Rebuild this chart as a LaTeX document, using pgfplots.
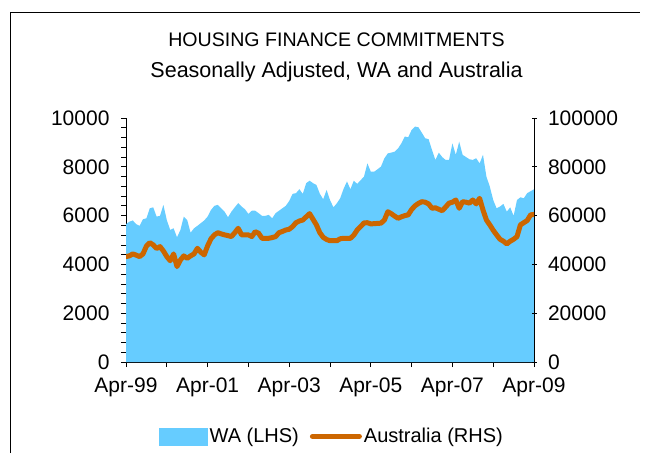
\documentclass[border=0pt]{standalone}
\usepackage{pgfplots}
\pgfplotsset{compat=1.18}
\usepackage{pgfplotstable}
\usepackage{fontspec}
\setmainfont{Liberation Sans}
\definecolor{wablue}{HTML}{66CCFF}
\definecolor{ausorange}{HTML}{CC6600}

\pgfplotstableread{
m v
0 5650
1 5750
2 5800
3 5650
4 5580
5 5850
6 5890
7 6300
8 6340
9 5960
10 5990
11 6440
12 5820
13 5410
14 5480
15 5110
16 5410
17 5960
18 5820
19 5300
20 5480
21 5580
22 5690
23 5800
24 5960
25 6230
26 6400
27 6440
28 6300
29 6160
30 5930
31 6160
32 6340
33 6510
34 6370
35 6260
36 6070
37 6200
38 6200
39 6100
40 5990
41 5990
42 6030
43 5890
44 6100
45 6200
46 6300
47 6400
48 6600
49 6890
50 6920
51 7080
52 6890
53 7330
54 7430
55 7330
56 7260
57 6900
58 6670
59 7050
60 6640
61 6340
62 6500
63 6710
64 7100
65 7400
66 7080
67 7430
68 7300
69 7450
70 7600
71 8140
72 7800
73 7800
74 7900
75 8010
76 8350
77 8550
78 8580
79 8620
80 8750
81 8960
82 9240
83 9210
84 9510
85 9650
86 9620
87 9400
88 9170
89 9130
90 8690
91 8280
92 8580
93 8400
94 8280
95 8280
96 8960
97 8490
98 9030
99 8490
100 8400
101 8310
102 8280
103 8350
104 8140
105 8490
106 7600
107 7190
108 6640
109 6300
110 6370
111 6480
112 6160
113 6340
114 5990
115 6640
116 6750
117 6710
118 6920
119 7000
120 7080
}\wadata

\pgfplotstableread{
m v
0 43200
1 43500
2 44300
3 43800
4 43200
5 44300
6 47500
7 48900
8 48000
9 46500
10 47300
11 45500
12 43200
13 41500
14 44300
15 39100
16 41800
17 43500
18 42500
19 43500
20 44300
21 46600
22 45000
23 43900
24 47600
25 50500
26 52100
27 53000
28 52500
29 52100
30 51800
31 51400
32 53000
33 54800
34 52100
35 52100
36 52100
37 51400
38 53400
39 52800
40 50700
41 50700
42 50700
43 51000
44 51400
45 53000
46 53500
47 54100
48 54400
49 55500
50 57100
51 57800
52 58200
53 59500
54 60800
55 58500
56 56200
57 53000
58 51100
59 50200
60 49700
61 49700
62 49700
63 50500
64 50700
65 50700
66 50700
67 52000
68 54100
69 55500
70 57000
71 57100
72 56600
73 56700
74 56800
75 56900
76 58200
77 61600
78 60800
79 59800
80 58900
81 59500
82 60000
83 60300
84 62500
85 64000
86 65000
87 65700
88 65500
89 64800
90 63000
91 63200
92 62600
93 62000
94 63500
95 65100
96 65500
97 66400
98 63000
99 65700
100 65500
101 65100
102 66400
103 64800
104 67100
105 62300
106 58200
107 56200
108 54000
109 52100
110 50300
111 49500
112 48400
113 49500
114 50300
115 51400
116 56200
117 57100
118 58000
119 60300
120 60500
}\ausdata

\begin{document}
\begin{tikzpicture}[x=1pt,y=1pt]
\path[use as bounding box] (0,0) rectangle (650,453);
% frame (top and left edges visible)
\draw[black, line width=0.9pt] (10,0) -- (10,441) -- (640,441);
% titles
\node[font=\fontsize{19.6}{22}\selectfont] at (336.5,413) {HOUSING FINANCE COMMITMENTS};
\node[font=\fontsize{21.5}{24}\selectfont] at (336.5,381) {Seasonally Adjusted, WA and Australia};

\pgfplotsset{
  every axis/.append style={
    scale only axis, width=408pt, height=244pt,
    at={(126pt,91pt)}, anchor=south west,
    xmin=0, xmax=120,
    /pgf/number format/assume math mode=true,
    /pgf/number format/fixed,
    /pgf/number format/precision=0,
    /pgf/number format/1000 sep={},
    scaled y ticks=false,
    tick label style={font=\fontsize{21}{24}\selectfont},
    major tick length=5pt, minor tick length=5pt,
    tick style={black, line width=0.7pt},
    axis line style={black, line width=0.9pt},
  }
}
\begin{axis}[
  axis x line*=bottom, axis y line*=left,
  ymin=0, ymax=10000,
  ytick={0,2000,...,10000},
  minor y tick num=4,
  xtick={0,12,...,120},
  xticklabels={Apr-99,,Apr-01,,Apr-03,,Apr-05,,Apr-07,,Apr-09},
  tick align=outside,
  xticklabel style={yshift=-7pt},
  yticklabel style={xshift=-8pt},
]
\addplot[fill=wablue, draw=none] table[x=m,y=v] {\wadata} \closedcycle;
\end{axis}
\begin{axis}[
  axis x line=none, axis y line*=right,
  ymin=0, ymax=100000,
  ytick={0,20000,...,100000},
  tick align=center,
  yticklabel style={xshift=8pt},
  legend style={at={(0.505,-0.305)}, anchor=center, draw=none, fill=none,
    legend columns=2, font=\fontsize{20}{24}\selectfont,
    /tikz/every even column/.append style={column sep=9pt}},
]
\addlegendimage{legend image code/.code={\fill[wablue] (-2pt,-8.5pt) rectangle (46pt,8.5pt);}}
\addlegendentry{WA (LHS)}
\addplot[ausorange, line width=5pt, line join=round, line cap=round,
  legend image code/.code={\draw[ausorange, line width=5pt, line cap=round] (1pt,0pt) -- (48pt,0pt);}]
  table[x=m,y=v] {\ausdata};
\addlegendentry{Australia (RHS)}
\end{axis}
\end{tikzpicture}
\end{document}
